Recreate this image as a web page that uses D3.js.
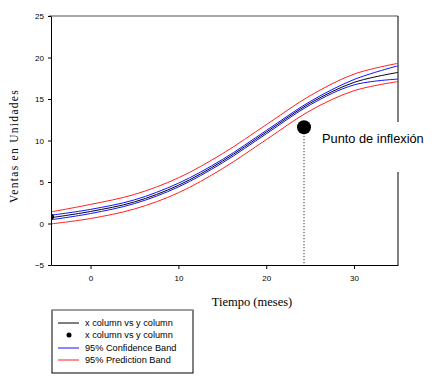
<!DOCTYPE html>
<html><head><meta charset="utf-8">
<script src="https://cdn.jsdelivr.net/npm/d3@7"></script>
<style>body{margin:0;background:#fff}svg{display:block}</style>
</head><body>
<script>
// Data
const xs        = [-4.5, 0, 5, 10, 15, 20, 25, 30, 35];
const fit       = [0.7, 1.45, 2.6, 4.6, 7.5, 11.0, 14.5, 17.0, 18.2];
const confUpper = [1.0, 1.7, 2.85, 4.85, 7.7, 11.2, 14.7, 17.35, 19.0];
const confLower = [0.45, 1.2, 2.4, 4.4, 7.3, 10.8, 14.3, 16.7, 17.4];
const predUpper = [1.4, 2.3, 3.5, 5.5, 8.4, 11.9, 15.4, 18.0, 19.3];
const predLower = [-0.05, 0.6, 1.75, 3.7, 6.6, 10.1, 13.6, 16.0, 17.1];
const pointsX = [-4.5];
const pointsY = [0.8];
const inflexX = 24.3, inflexY = 11.6;
const xTicks = [0, 10, 20, 30];
const yTicks = [-5, 0, 5, 10, 15, 20, 25];
const legendLabels = ["x column vs y column", "x column vs y column", "95% Confidence Band", "95% Prediction Band"];

const W = 441, H = 380;
const svg = d3.select("body").append("svg").attr("width", W).attr("height", H);
const x = d3.scaleLinear().domain([-4.5, 35]).range([51, 398]);
const y = d3.scaleLinear().domain([-5, 25]).range([265, 16]);

// frame
svg.append("line").attr("x1", 49).attr("x2", 398).attr("y1", 16).attr("y2", 16)
  .attr("stroke", "#a8a8a8").attr("stroke-width", 2);
svg.append("line").attr("x1", 398).attr("x2", 398).attr("y1", 16).attr("y2", 265)
  .attr("stroke", "#000").attr("stroke-width", 1);

svg.append("clipPath").attr("id", "c").append("rect")
  .attr("x", 51).attr("y", 16).attr("width", 347).attr("height", 249);
const g = svg.append("g").attr("clip-path", "url(#c)");

const line = arr => d3.line().x((d, i) => x(xs[i])).y(d => y(d)).curve(d3.curveCatmullRom)(arr);
[[predUpper, "#ff2020"], [predLower, "#ff2020"], [confUpper, "#1010ff"], [confLower, "#1010ff"], [fit, "#000"]]
  .forEach(([arr, c]) => g.append("path").attr("d", line(arr)).attr("fill", "none")
    .attr("stroke", c).attr("stroke-width", 1));

// axes
const xAxis = svg.append("g").attr("transform", "translate(0,265)")
  .call(d3.axisBottom(x).tickValues(xTicks).tickSize(4).tickSizeOuter(0).tickPadding(6));
const yAxis = svg.append("g").attr("transform", "translate(51,0)")
  .call(d3.axisLeft(y).tickValues(yTicks).tickSize(3).tickSizeOuter(0).tickPadding(4));
[xAxis, yAxis].forEach(a => {
  a.selectAll("text").attr("font-family", "Liberation Sans, Arial, sans-serif").attr("font-size", 8).attr("fill", "#000");
  a.selectAll("line,path").attr("stroke", "#000");
});

// data point
g.selectAll("circle.pt").data(pointsX).enter().append("circle")
  .attr("cx", d => x(d)).attr("cy", (d, i) => y(pointsY[i])).attr("r", 3).attr("fill", "#000");

// inflection point
svg.append("line").attr("x1", x(inflexX)).attr("x2", x(inflexX)).attr("y1", y(inflexY)).attr("y2", 265)
  .attr("stroke", "#000").attr("stroke-width", 1).attr("stroke-dasharray", "1,2");
svg.append("circle").attr("cx", x(inflexX)).attr("cy", y(inflexY)).attr("r", 7).attr("fill", "#000");
svg.append("rect").attr("x", 318).attr("y", 122).attr("width", 120).attr("height", 50).attr("fill", "#fff");
svg.append("text").attr("x", 322).attr("y", 143).text("Punto de inflexión")
  .attr("font-family", "Liberation Sans, Arial, sans-serif").attr("font-size", 12.8).attr("fill", "#000");

// axis titles
svg.append("text").attr("x", 252).attr("y", 306).attr("text-anchor", "middle").text("Tiempo (meses)")
  .attr("font-family", "Liberation Serif, Times New Roman, serif").attr("font-size", 12.5);
svg.append("text").attr("transform", "translate(18,146) rotate(-90)").attr("text-anchor", "middle")
  .text("Ventas en Unidades").attr("letter-spacing", 1.3)
  .attr("font-family", "Liberation Serif, Times New Roman, serif").attr("font-size", 11.5);

// legend
const lg = svg.append("g");
lg.append("rect").attr("x", 52).attr("y", 310).attr("width", 141).attr("height", 63)
  .attr("fill", "#fff").attr("stroke", "#000").attr("stroke-width", 1);
lg.append("line").attr("x1", 52).attr("x2", 193).attr("y1", 310).attr("y2", 310).attr("stroke", "#a8a8a8").attr("stroke-width", 1.5);
const rowY = [323, 335, 348, 360];
const kinds = ["line-k", "dot", "line-b", "line-r"];
legendLabels.forEach((t, i) => {
  const yy = rowY[i];
  if (kinds[i] === "dot") {
    lg.append("circle").attr("cx", 69).attr("cy", yy).attr("r", 2.5).attr("fill", "#000");
  } else {
    const c = kinds[i] === "line-k" ? "#000" : kinds[i] === "line-b" ? "#1010ff" : "#ff2020";
    lg.append("line").attr("x1", 58).attr("x2", 79).attr("y1", yy).attr("y2", yy).attr("stroke", c).attr("stroke-width", 1);
  }
  lg.append("text").attr("x", 85).attr("y", yy + 3).text(t)
    .attr("font-family", "Liberation Sans, Arial, sans-serif").attr("font-size", 9.2);
});
</script>
</body></html>
